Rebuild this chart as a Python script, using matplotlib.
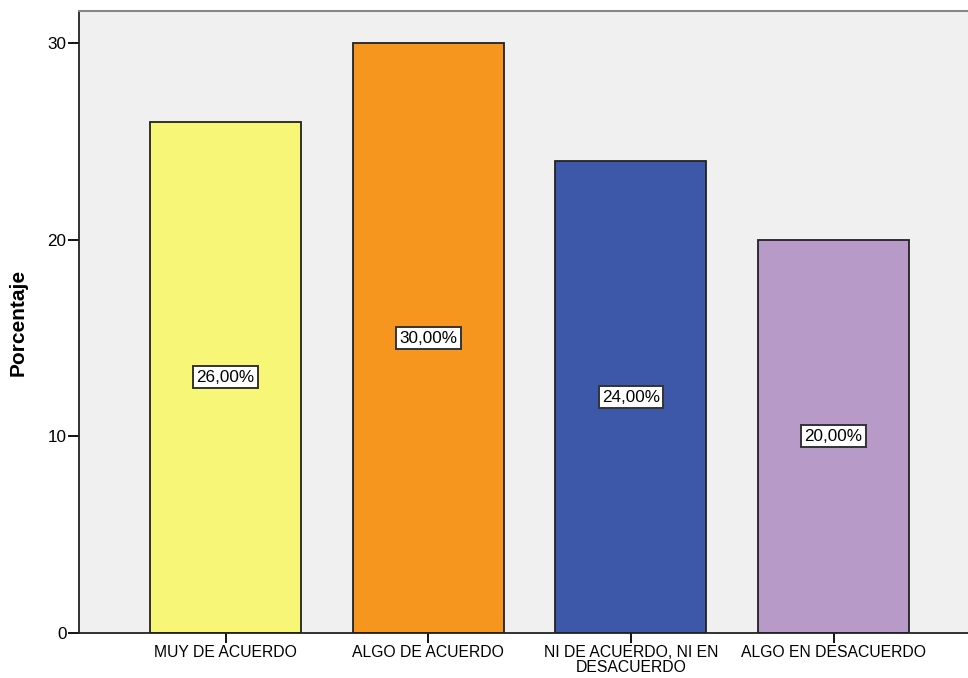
import matplotlib.pyplot as plt
import numpy as np

plt.rcParams['font.family'] = ['Liberation Sans', 'DejaVu Sans']

categories = ['MUY DE ACUERDO', 'ALGO DE ACUERDO', 'NI DE ACUERDO, NI EN\nDESACUERDO', 'ALGO EN DESACUERDO']
values = [26.0, 30.0, 24.0, 20.0]
labels = ['26,00%', '30,00%', '24,00%', '20,00%']
colors = ['#F8F677', '#F7961F', '#3D58A8', '#B79AC8']

fig = plt.figure(figsize=(9.68, 6.78), dpi=100)
ax = fig.add_axes([0.0816, 0.0664, 0.9184, 0.9174])
ax.set_facecolor('#F0F0F0')

x = np.arange(len(categories))
ax.bar(x, values, width=0.745, color=colors, edgecolor='#222222', linewidth=1.3, zorder=2)

for xi, v, lab in zip(x, values, labels):
    ax.text(xi, v / 2, lab, ha='center', va='center', fontsize=12.3, color='black',
            bbox=dict(boxstyle='square,pad=0.2', facecolor='white', edgecolor='#333333', linewidth=1.4),
            zorder=3)

ax.set_xlim(-0.723, 3.663)
ax.set_ylim(0, 31.63)
ax.set_yticks([0, 10, 20, 30])
ax.set_xticks(x)
ax.set_xticklabels(categories, fontsize=11.3, linespacing=1.0)
ax.tick_params(axis='y', labelsize=12.3, length=8, width=1.3, direction='out', pad=1)
ax.tick_params(axis='x', length=7, width=1.3, direction='out', pad=2)
ax.set_ylabel('Porcentaje', fontsize=15, fontweight='bold')
ax.yaxis.set_label_coords(-0.0574, 0.5)

ax.spines['right'].set_visible(False)
ax.spines['top'].set_color('#888888')
ax.spines['top'].set_linewidth(1.5)
for s in ['left', 'bottom']:
    ax.spines[s].set_color('#222222')
    ax.spines[s].set_linewidth(1.3)

fig.savefig('out.png', dpi=100)
